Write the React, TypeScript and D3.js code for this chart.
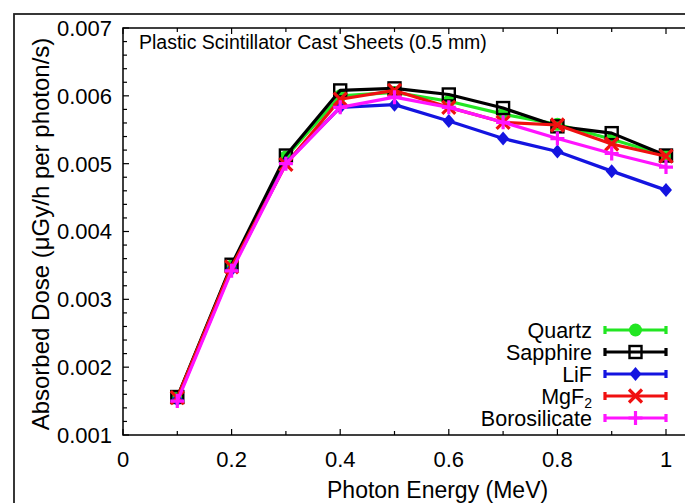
import React, { useRef, useEffect } from 'react'
import * as d3 from 'd3'

const energies = [0.1, 0.2, 0.3, 0.4, 0.5, 0.6, 0.7, 0.8, 0.9, 1.0]

const quartz = [0.00155, 0.00349, 0.00510, 0.00600, 0.00605, 0.00592, 0.00573, 0.00558, 0.00536, 0.00512]
const sapphire = [0.00156, 0.00351, 0.00512, 0.00608, 0.00611, 0.00602, 0.00582, 0.00555, 0.00545, 0.00512]
const lif = [0.00152, 0.00344, 0.00501, 0.00583, 0.00587, 0.00563, 0.00537, 0.00518, 0.00489, 0.00461]
const mgf2 = [0.00155, 0.00348, 0.00499, 0.00595, 0.00608, 0.00583, 0.00561, 0.00557, 0.00529, 0.00511]
const borosilicate = [0.00150, 0.00342, 0.00500, 0.00583, 0.00598, 0.00583, 0.00561, 0.00537, 0.00515, 0.00495]

const series = [
  { name: 'Quartz', values: quartz, color: '#22e622', marker: 'circle' },
  { name: 'Sapphire', values: sapphire, color: '#000000', marker: 'square' },
  { name: 'LiF', values: lif, color: '#1414e0', marker: 'diamond' },
  { name: 'MgF2', values: mgf2, color: '#f01010', marker: 'cross' },
  { name: 'Borosilicate', values: borosilicate, color: '#ff14ff', marker: 'plus' },
]

const xTicks = [0, 0.2, 0.4, 0.6, 0.8, 1]
const yTicks = [0.001, 0.002, 0.003, 0.004, 0.005, 0.006, 0.007]

const W = 685
const H = 503
const FONT = '"Liberation Sans", Arial, Helvetica, sans-serif'

function drawMarker(g: any, type: string, cx: number, cy: number, color: string) {
  if (type === 'circle') {
    g.append('circle').attr('cx', cx).attr('cy', cy).attr('r', 6.5).attr('fill', color)
  } else if (type === 'square') {
    g.append('rect').attr('x', cx - 6).attr('y', cy - 6).attr('width', 12).attr('height', 12)
      .attr('fill', 'none').attr('stroke', color).attr('stroke-width', 2.4)
  } else if (type === 'diamond') {
    g.append('path').attr('d', `M${cx},${cy - 7}L${cx + 6},${cy}L${cx},${cy + 7}L${cx - 6},${cy}Z`).attr('fill', color)
  } else if (type === 'cross') {
    const s = 6.5
    g.append('path').attr('d', `M${cx - s},${cy - s}L${cx + s},${cy + s}M${cx - s},${cy + s}L${cx + s},${cy - s}`)
      .attr('stroke', color).attr('stroke-width', 3.2).attr('fill', 'none')
  } else if (type === 'plus') {
    const s = 7
    g.append('path').attr('d', `M${cx - s},${cy}L${cx + s},${cy}M${cx},${cy - s}L${cx},${cy + s}`)
      .attr('stroke', color).attr('stroke-width', 3.2).attr('fill', 'none')
  }
}

export default function App() {
  const svgRef = useRef<SVGSVGElement>(null)

  useEffect(() => {
    if (!svgRef.current) return
    const svg = d3.select(svgRef.current)
    svg.selectAll('*').remove()

    const left = 123
    const top = 28
    const bottom = 435
    const x = d3.scaleLinear().domain([0, 1.05]).range([left, left + 543 * 1.05])
    const y = d3.scaleLinear().domain([0.001, 0.007]).range([bottom, top])
    const right = x(1.05)

    svg.append('rect').attr('width', W).attr('height', H).attr('fill', '#fff')

    // outer frame, runs off the right and bottom edges like the reference crop
    svg.append('rect').attr('x', 14).attr('y', 14).attr('width', 720).attr('height', 520)
      .attr('fill', 'none').attr('stroke', '#222').attr('stroke-width', 1.8)

    // plot frame
    svg.append('rect').attr('x', left).attr('y', top).attr('width', right - left).attr('height', bottom - top)
      .attr('fill', 'none').attr('stroke', '#000').attr('stroke-width', 1.5)

    const ticks = svg.append('g').attr('stroke', '#000').attr('stroke-width', 1.2)
    d3.range(0, 1.05, 0.1).forEach((v, i) => {
      const len = i % 2 === 0 ? 6 : 4
      ticks.append('line').attr('x1', x(v)).attr('x2', x(v)).attr('y1', bottom).attr('y2', bottom - len)
      ticks.append('line').attr('x1', x(v)).attr('x2', x(v)).attr('y1', top).attr('y2', top + len)
    })
    d3.range(0.001, 0.00701, 0.0002).forEach((v, i) => {
      const len = i % 5 === 0 ? 6 : 4
      ticks.append('line').attr('x1', left).attr('x2', left + len).attr('y1', y(v)).attr('y2', y(v))
      ticks.append('line').attr('x1', right).attr('x2', right - len).attr('y1', y(v)).attr('y2', y(v))
    })

    const labels = svg.append('g').attr('font-family', FONT).attr('fill', '#000')
    xTicks.forEach(v => {
      labels.append('text').attr('x', x(v)).attr('y', 467).attr('text-anchor', 'middle')
        .attr('font-size', 22).text(d3.format('')(v))
    })
    yTicks.forEach(v => {
      labels.append('text').attr('x', 112).attr('y', y(v)).attr('dy', '0.36em').attr('text-anchor', 'end')
        .attr('font-size', 22).text(d3.format('.3f')(v))
    })

    labels.append('text').attr('x', 327).attr('y', 498)
      .attr('font-size', 23).text('Photon Energy (MeV)')
    labels.append('text').attr('transform', `translate(49,234) rotate(-90)`)
      .attr('text-anchor', 'middle').attr('font-size', 24).text('Absorbed Dose (μGy/h per photon/s)')
    labels.append('text').attr('x', 139).attr('y', 49).attr('font-size', 19.5)
      .text('Plastic Scintillator Cast Sheets (0.5 mm)')

    const line = d3.line<number>().x((_, i) => x(energies[i])).y(d => y(d))
    series.forEach(s => {
      const g = svg.append('g')
      g.append('path').datum(s.values).attr('d', line).attr('fill', 'none')
        .attr('stroke', s.color).attr('stroke-width', 3.2).attr('stroke-linejoin', 'round')
      s.values.forEach((v, i) => drawMarker(g, s.marker, x(energies[i]), y(v), s.color))
    })

    // legend
    const lg = svg.append('g').attr('font-family', FONT)
    series.forEach((s, i) => {
      const ly = 330 + i * 22
      const x0 = 605
      const x1 = x(1)
      const t = lg.append('text').attr('x', 592).attr('y', ly).attr('dy', '0.36em').attr('text-anchor', 'end')
        .attr('font-size', 21.5)
      if (s.name === 'MgF2') {
        t.append('tspan').text('MgF')
        t.append('tspan').attr('font-size', 14).attr('dy', 4).text('2')
      } else {
        t.text(s.name)
      }
      lg.append('path').attr('d', `M${x0},${ly}L${x1},${ly}M${x0},${ly - 4}L${x0},${ly + 4}M${x1},${ly - 4}L${x1},${ly + 4}`)
        .attr('stroke', s.color).attr('stroke-width', 3.2).attr('fill', 'none')
      drawMarker(lg, s.marker, (x0 + x1) / 2, ly, s.color)
    })
  }, [])

  return (
    <svg ref={svgRef} width={W} height={H} style={{ position: 'absolute', left: 0, top: 0 }} />
  )
}
